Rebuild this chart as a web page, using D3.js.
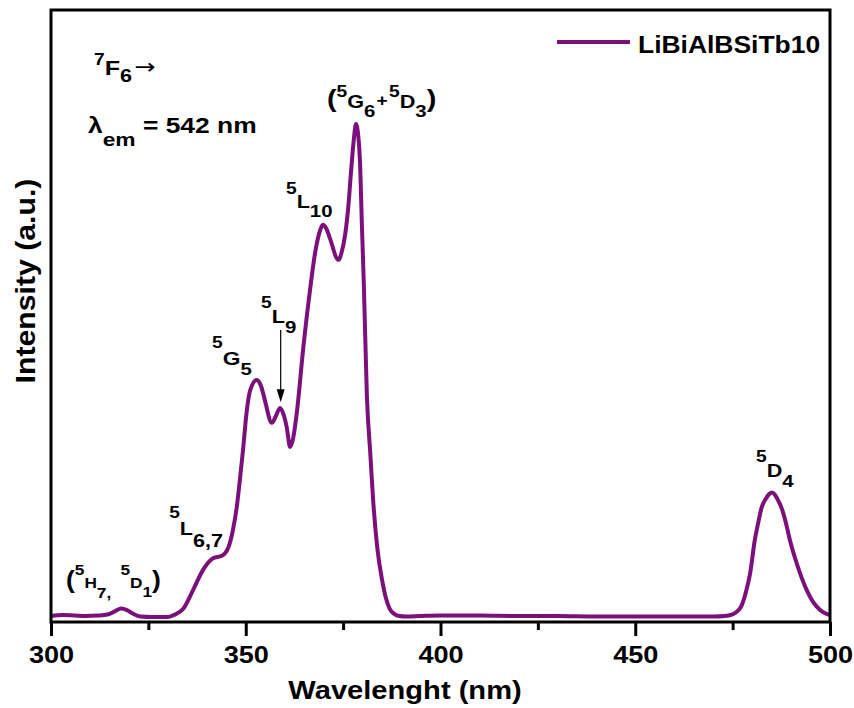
<!DOCTYPE html>
<html>
<head>
<meta charset="utf-8">
<script src="https://cdn.jsdelivr.net/npm/d3@7"></script>
<style>
  html, body { margin: 0; padding: 0; background: #fff; }
  svg text { white-space: pre; }
</style>
</head>
<body>
<svg id="chart" width="854" height="708"></svg>
<script>
// ---------------- data ----------------
const seriesNames = ["LiBiAlBSiTb10"];
const xTicksMajor = [300, 350, 400, 450, 500];
const xTicksMinor = [325, 375, 425, 475];

const wavelength = [
  300, 303, 306, 309, 312, 314.5, 316.5, 318, 319.5, 321,
  323, 326, 330, 331.5, 333.9, 336.5, 339, 341.6, 343.9, 345.4,
  346.7, 347.7, 348.5, 349.3, 350.2, 351.1, 352.8, 354, 354.9, 356.7,
  357.8, 358.8, 359.7, 360.5, 361.4, 362.2, 363.1, 364.8, 366.5, 367.8,
  369.1, 369.8, 370.7, 371.6, 373.8, 374.6, 375.5, 376.3, 377.0, 377.7,
  378.3, 378.9, 379.4, 379.8, 380.3, 381.1, 382.0, 382.7, 383.8, 385,
  386, 387, 388.2, 389.5, 391, 395, 400, 410, 420, 430,
  440, 450, 460, 470, 473, 474.8, 476, 477.3, 478.5, 479.5,
  480.7, 481.5, 482.5, 483.5, 484.4, 485.1, 485.8, 486.5, 487.6, 488.7,
  489.7, 491, 492.3, 494, 495.3, 496.6, 498, 500
];
const intensity = [
  0.004, 0.006, 0.005, 0.004, 0.005, 0.007, 0.014, 0.019, 0.016, 0.009,
  0.003, 0.002, 0.002, 0.006, 0.018, 0.057, 0.097, 0.121, 0.126, 0.140,
  0.178, 0.225, 0.280, 0.340, 0.415, 0.460, 0.482, 0.468, 0.441, 0.395,
  0.410, 0.425, 0.412, 0.387, 0.346, 0.365, 0.415, 0.549, 0.664, 0.739,
  0.785, 0.796, 0.788, 0.769, 0.725, 0.740, 0.775, 0.830, 0.900, 0.965,
  1.000, 0.975, 0.910, 0.800, 0.680, 0.450, 0.330, 0.239, 0.140, 0.077,
  0.040, 0.018, 0.008, 0.004, 0.003, 0.004, 0.005, 0.005, 0.004, 0.004,
  0.003, 0.003, 0.003, 0.003, 0.004, 0.007, 0.012, 0.025, 0.055, 0.091,
  0.158, 0.190, 0.225, 0.241, 0.251, 0.254, 0.250, 0.241, 0.222, 0.192,
  0.158, 0.122, 0.091, 0.057, 0.037, 0.023, 0.013, 0.006
];

// annotation labels anchored in data units: [text, fontSize, yOffset, dx, family]
const annotations = [
  { nm: 303.85, v: 0.0607, sx: 1.15, parts: [["(",23,0],["5",15,-13],["H",15,0],["7",15,10],[",",15,10],["5",15,-13,8],["D",15,0],["1",15,9],[")",23,0]] },
  { nm: 330.33, v: 0.168, sx: 1.2, parts: [["5",16,-17],["L",18,0],["6,7",18,12]] },
  { nm: 341.34, v: 0.512, sx: 1.2, parts: [["5",16,-17],["G",19,0],["5",17,10]] },
  { nm: 353.92, v: 0.597, sx: 1.2, parts: [["5",16,-15],["L",18,0],["9",17,10]] },
  { nm: 360.33, v: 0.830, sx: 1.2, parts: [["5",16,-14],["L",18,0],["10",17,9]] },
  { nm: 370.86, v: 1.032, sx: 1.2, parts: [["(",24,-1],["5",16,-11],["G",18,0],["6",17,9],["+",16,-2,1],["5",16,-11,1],["D",18,0],["3",17,9],[")",24,-1]] },
  { nm: 481.0, v: 0.285, sx: 1.2, parts: [["5",16,-15],["D",18,0],["4",17,10]] },
  { nm: 311.04, v: 1.099, sx: 1.2, parts: [["7",16,-10],["F",21,0],["6",18,7],["\u2192",21,-1,2,"'DejaVu Sans', sans-serif"]] },
  { nm: 309.5, v: 0.982, sx: 1.2, parts: [["\u03bb",22,0],["em",19,13],[" = 542 nm",22,0]] }
];
// arrow pointing at the 5L9 shoulder: nm, value start, value tip
const arrowL9 = { nm: 358.97, from: 0.583, to: 0.437 };

// ---------------- layout ----------------
const FONT = "'Liberation Sans', Arial, Helvetica, sans-serif";
const COLOR = "#7d0f7d";
const svg = d3.select("#chart");
const pLeft = 51, pRight = 830, pTop = 10, pBottom = 622;

const x = d3.scaleLinear().domain([300, 500]).range([pLeft, pRight]);
const y = d3.scaleLinear().domain([-0.0081, 1.2308]).range([pBottom, pTop]);

// curve
const data = wavelength.map((w, i) => ({ w, v: intensity[i] }));
const line = d3.line().x(d => x(d.w)).y(d => y(d.v)).curve(d3.curveMonotoneX);
const plot = svg.append("g");
plot.append("clipPath").attr("id", "clip").append("rect")
  .attr("x", pLeft).attr("y", pTop).attr("width", pRight - pLeft).attr("height", pBottom - pTop);
plot.append("path").datum(data)
  .attr("clip-path", "url(#clip)")
  .attr("d", line).attr("fill", "none").attr("stroke", COLOR)
  .attr("stroke-width", 4).attr("stroke-linejoin", "round").attr("stroke-linecap", "round");

// minor ticks
const minorAxis = d3.axisBottom(x).tickValues(xTicksMinor).tickSize(8).tickFormat("").tickSizeOuter(0);
const gMinor = svg.append("g").attr("transform", `translate(0,${pBottom})`).call(minorAxis);
gMinor.select(".domain").remove();
gMinor.selectAll("line").attr("stroke", "#000").attr("stroke-width", 3);

// major ticks + labels
const majorAxis = d3.axisBottom(x).tickValues(xTicksMajor).tickSize(14).tickSizeOuter(0).tickFormat(d3.format("d"));
const gMajor = svg.append("g").attr("transform", `translate(0,${pBottom})`).call(majorAxis);
gMajor.select(".domain").remove();
gMajor.selectAll("line").attr("stroke", "#000").attr("stroke-width", 3);
gMajor.selectAll("text")
  .attr("y", 41).attr("dy", 0)
  .attr("transform", "scale(1.13,1)")
  .attr("font-family", FONT).attr("font-weight", "bold").attr("font-size", 24).attr("fill", "#000");

// frame
svg.append("rect").attr("x", pLeft).attr("y", pTop).attr("width", pRight - pLeft).attr("height", pBottom - pTop)
  .attr("fill", "none").attr("stroke", "#000").attr("stroke-width", 3);

// axis titles
svg.append("text").attr("transform", "translate(405,699) scale(1.12,1)")
  .attr("text-anchor", "middle").attr("font-family", FONT).attr("font-weight", "bold")
  .attr("font-size", 26).text("Wavelenght (nm)");
svg.append("text").attr("transform", "translate(35,281) rotate(-90) scale(1.08,1)")
  .attr("text-anchor", "middle").attr("font-family", FONT).attr("font-weight", "bold")
  .attr("font-size", 28).text("Intensity (a.u.)");

// legend
const lg = svg.append("g");
seriesNames.forEach((name, i) => {
  lg.append("line").attr("x1", 557).attr("x2", 630).attr("y1", 42 + i * 30).attr("y2", 42 + i * 30)
    .attr("stroke", COLOR).attr("stroke-width", 4);
  lg.append("text").attr("transform", `translate(638,${53 + i * 30}) scale(1.15,1)`)
    .attr("font-family", FONT).attr("font-weight", "bold").attr("font-size", 23).text(name);
});

// annotations
annotations.forEach(a => {
  const t = svg.append("text")
    .attr("transform", `translate(${x(a.nm)},${y(a.v)}) scale(${a.sx},1)`)
    .attr("font-family", FONT).attr("font-weight", "bold").attr("fill", "#000");
  a.parts.forEach(p => {
    const ts = t.append("tspan").attr("y", p[2]).attr("font-size", p[1]).text(p[0]);
    if (p[3]) ts.attr("dx", p[3]);
    if (p[4]) ts.attr("font-family", p[4]).attr("font-weight", "normal");
  });
});

// arrow for 5L9
const ax = x(arrowL9.nm), ay1 = y(arrowL9.from), ay2 = y(arrowL9.to);
svg.append("line").attr("x1", ax).attr("x2", ax).attr("y1", ay1).attr("y2", ay2 - 10)
  .attr("stroke", "#000").attr("stroke-width", 1.2);
svg.append("path")
  .attr("d", `M${ax - 4},${ay2 - 13} L${ax + 4},${ay2 - 13} L${ax},${ay2} Z`)
  .attr("fill", "#000");
</script>
</body>
</html>
